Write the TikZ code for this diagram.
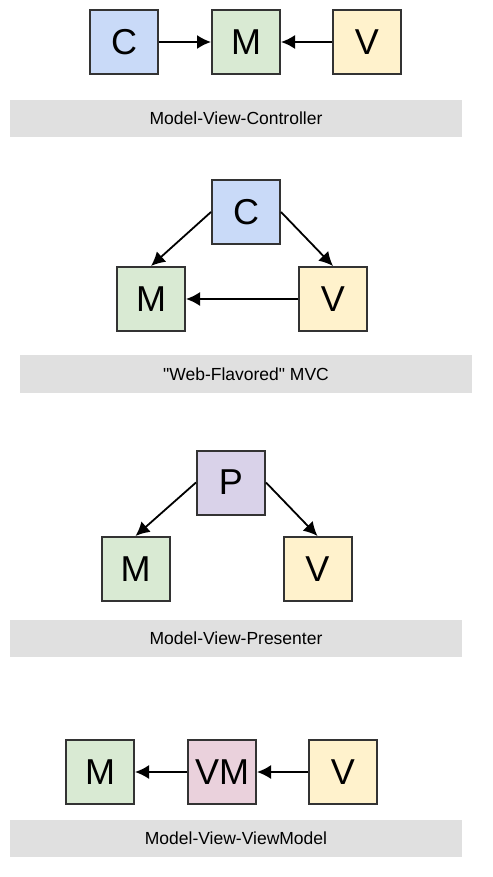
\documentclass[tikz,border=0pt]{standalone}
\usepackage{fontspec}
\setmainfont{Liberation Sans}
\usetikzlibrary{arrows.meta}
\definecolor{cblue}{HTML}{C9DAF8}
\definecolor{mgreen}{HTML}{D9EAD3}
\definecolor{vyellow}{HTML}{FFF2CC}
\definecolor{ppurple}{HTML}{D9D2E9}
\definecolor{vmpink}{HTML}{EAD1DC}
\definecolor{bargray}{HTML}{E0E0E0}
\definecolor{edge}{HTML}{333333}
\tikzset{
  box/.style={draw=edge, line width=2pt, minimum width=68pt, minimum height=64pt,
    inner sep=0pt, font=\fontsize{36}{40}\selectfont},
  caption/.style={font=\fontsize{17.5}{20}\selectfont},
  link/.style={->, line width=1.8pt}
}
\begin{document}
\begin{tikzpicture}[>={Latex[length=14pt,width=14pt]}, x=1pt, y=1pt]
    \useasboundingbox (0,0) rectangle (492,-877);
    % Model-View-Controller
    \node[box, fill=cblue] (c1) at (124,-42) {C};
    \node[box, fill=mgreen] (m1) at (246,-42) {M};
    \node[box, fill=vyellow] (v1) at (367,-42) {V};
    \draw[link] (c1)--(m1);
    \draw[link] (v1)--(m1);
    \fill[bargray] (10,-100) rectangle (462,-137);
    \node[caption] (t1) at (236,-118.5) {Model-View-Controller};
    % Web-Flavored MVC
    \node[box, fill=cblue] (c2) at (246,-212) {C};
    \node[box, fill=mgreen] (m2) at (151,-299) {M};
    \node[box, fill=vyellow] (v2) at (333,-299) {V};
    \draw[link] (c2.west)--(m2.north);
    \draw[link] (c2.east)--(v2.north);
    \draw[link] (v2)--(m2);
    \fill[bargray] (20,-355) rectangle (472,-393);
    \node[caption] (t2) at (246,-374) {\textquotedbl Web-Flavored\textquotedbl{} MVC};
    % Model-View-Presenter
    \node[box, fill=ppurple] (p3) at (231,-482.5) {P};
    \node[box, fill=mgreen] (m3) at (135.5,-569) {M};
    \node[box, fill=vyellow] (v3) at (317.5,-569) {V};
    \draw[link] (p3.west)--(m3.north);
    \draw[link] (p3.east)--(v3.north);
    \fill[bargray] (10,-620) rectangle (462,-657);
    \node[caption] (t3) at (236,-638.5) {Model-View-Presenter};
    % Model-View-ViewModel
    \node[box, fill=mgreen] (m4) at (100,-772) {M};
    \node[box, fill=vmpink] (vm4) at (222,-772) {VM};
    \node[box, fill=vyellow] (v4) at (343,-772) {V};
    \draw[link] (vm4)--(m4);
    \draw[link] (v4)--(vm4);
    \fill[bargray] (10,-820) rectangle (462,-857);
    \node[caption] (t4) at (236,-838.5) {Model-View-ViewModel};
\end{tikzpicture}
\end{document}
